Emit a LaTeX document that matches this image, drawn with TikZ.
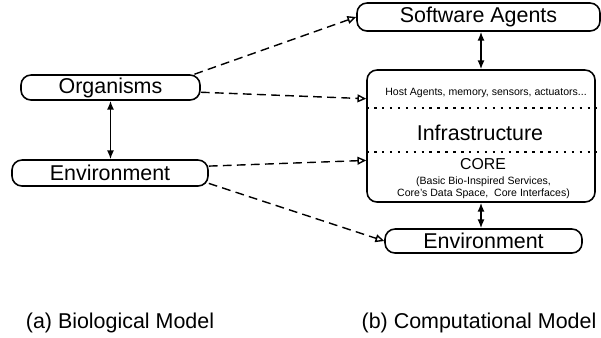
\documentclass[tikz,border=0pt]{standalone}
\usepackage{fontspec}
\setmainfont{Liberation Sans}
\usepackage{tikz}
\usetikzlibrary{shapes, arrows.meta, positioning}
\usetikzlibrary{calc}

\begin{document}
\begin{tikzpicture}
  [
    Box/.style={rectangle, rounded corners=2mm, draw=black, line width=0.9pt, inner sep=0pt, font=\fontsize{12.2}{14}\selectfont},
    Frame/.style={rectangle, rounded corners=2mm, draw=black, line width=0.9pt, minimum width=4.56cm, minimum height=2.64cm},
    Big/.style={font=\fontsize{12.2}{14}\selectfont, inner sep=0pt},
    Small/.style={font=\fontsize{6}{6.8}\selectfont, align=center, inner sep=0pt},
    Link/.style={-{Triangle[open, length=5pt, width=4.5pt]}, dash pattern=on 5pt off 3pt, line width=0.8pt},
    Pair/.style={{Latex[length=5pt, width=4pt]}-{Latex[length=5pt, width=4pt]}, line width=0.9pt},
    Dots/.style={dash pattern=on 1.4pt off 3.1pt, line width=0.9pt}
  ]
  \useasboundingbox (0, 0) rectangle (12.02, -6.74);

  % Nodes
  \node[Box, minimum width=3.58cm, minimum height=0.5cm] (org) at(2.21, -1.75) {Organisms};

  \node[Box, minimum width=3.92cm, minimum height=0.52cm] (envbio) at(2.2, -3.46) {Environment};

  \node[Box, minimum width=4.86cm, minimum height=0.56cm] (agents) at(9.57, -0.34) {Software Agents};

  \node[Frame] (infra) at(9.62, -2.72) {};
  \node[Small] (host) at(9.72, -1.86) {Host Agents, memory, sensors, actuators...};
  \node[Big] (infratext) at(9.6, -2.66) {Infrastructure};
  \node[Small, font=\fontsize{9}{10}\selectfont] (core) at(9.66, -3.28) {CORE};
  \node[Small] (services) at(9.67, -3.76) {(Basic Bio-Inspired Services,\\Core's Data Space,~ Core Interfaces)};

  \node[Box, minimum width=3.94cm, minimum height=0.48cm] (envcomp) at(9.67, -4.82) {Environment};

  \node[Big] (capbio) at(2.4, -6.46) {(a) Biological Model};
  \node[Big] (capcomp) at(9.58, -6.46) {(b) Computational Model};

  % Lines
  \draw[Dots] (infra.west |- 0, -2.16) -- (infra.east |- 0, -2.16);
  \draw[Dots] (infra.west |- 0, -3.04) -- (infra.east |- 0, -3.04);

  \draw[Pair] (org.south) -- (org.south |- envbio.north);
  \draw[Pair] (infra.north) -- (infra.north |- agents.south);
  \draw[Pair] (infra.south) -- (infra.south |- envcomp.north);

  \draw[Link] (org.9) -- (agents.west);
  \draw[Link] (org.-3) -- (infra.162.5);
  \draw[Link] (envbio.4) -- (infra.192);
  \draw[Link] (envbio.-6) -- (envcomp.west);

\end{tikzpicture}
\end{document}
